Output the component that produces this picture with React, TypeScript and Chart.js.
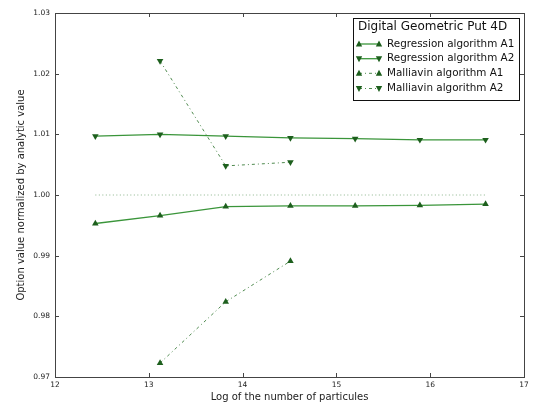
import React, { useEffect, useRef } from "react";
import { Chart, registerables } from "chart.js";

Chart.register(...registerables);

// ---- data ----
const logN = [12.43, 13.12, 13.82, 14.51, 15.2, 15.89, 16.59];
const regressionA1 = [0.9953, 0.9966, 0.9981, 0.9982, 0.9982, 0.9983, 0.9985];
const regressionA2 = [1.0097, 1.01, 1.0097, 1.0094, 1.0093, 1.0091, 1.0091];
const malliavinX = [13.12, 13.82, 14.51];
const malliavinA1 = [0.9723, 0.9824, 0.9891];
const malliavinA2 = [1.0221, 1.0048, 1.0054];
const referenceValues = [1, 1, 1, 1, 1, 1, 1];
const xTicks = [12, 13, 14, 15, 16, 17];
const yTicks = [0.97, 0.98, 0.99, 1.0, 1.01, 1.02, 1.03];
const legendTitle = "Digital Geometric Put 4D";
const seriesLabels = [
  "Regression algorithm A1",
  "Regression algorithm A2",
  "Malliavin algorithm A1",
  "Malliavin algorithm A2",
];

const FONT = "'DejaVu Sans', sans-serif";
const LINE = "#3a953a";
const DASHLINE = "#4f8a4f";
const MARK = "#1d5f1d";

const toPts = (xs: number[], ys: number[]) => xs.map((x, i) => ({ x, y: ys[i] }));

const framePlugin = {
  id: "frame",
  afterDraw(chart: any) {
    const { ctx, chartArea: a, scales } = chart;
    ctx.save();
    ctx.strokeStyle = "#444";
    ctx.lineWidth = 1;
    ctx.strokeRect(Math.round(a.left) + 0.5, Math.round(a.top) + 0.5, Math.round(a.right - a.left), Math.round(a.bottom - a.top));
    const tl = 4;
    ctx.beginPath();
    xTicks.forEach((v) => {
      const px = Math.round(scales.x.getPixelForValue(v)) + 0.5;
      ctx.moveTo(px, a.bottom);
      ctx.lineTo(px, a.bottom - tl);
      ctx.moveTo(px, a.top);
      ctx.lineTo(px, a.top + tl);
    });
    yTicks.forEach((v) => {
      const py = Math.round(scales.y.getPixelForValue(v)) + 0.5;
      ctx.moveTo(a.left, py);
      ctx.lineTo(a.left + tl, py);
      ctx.moveTo(a.right, py);
      ctx.lineTo(a.right - tl, py);
    });
    ctx.stroke();

    // legend box
    const bx = 353.5, by = 18.5, bw = 166, bh = 82;
    ctx.fillStyle = "#fff";
    ctx.fillRect(bx, by, bw, bh);
    ctx.strokeStyle = "#111";
    ctx.strokeRect(bx, by, bw, bh);
    ctx.fillStyle = "#111";
    ctx.textBaseline = "middle";
    ctx.textAlign = "left";
    ctx.font = `12px ${FONT}`;
    ctx.fillText(legendTitle, 358, 27);
    ctx.font = `10.4px ${FONT}`;
    const rows = [44, 58.7, 73.3, 88.5];
    chart.data.datasets.slice(0, 4).forEach((ds: any, i: number) => {
      const y = rows[i];
      ctx.save();
      ctx.strokeStyle = ds.borderColor;
      ctx.lineWidth = ds.borderWidth;
      ctx.setLineDash(ds.borderDash || []);
      ctx.beginPath();
      ctx.moveTo(359, y);
      ctx.lineTo(379, y);
      ctx.stroke();
      ctx.restore();
      [359, 379].forEach((mx) => {
        ctx.save();
        ctx.fillStyle = MARK;
        ctx.translate(mx, y);
        if (ds.pointRotation === 180) ctx.rotate(Math.PI);
        ctx.beginPath();
        ctx.moveTo(0, -3.5);
        ctx.lineTo(3.2, 2.5);
        ctx.lineTo(-3.2, 2.5);
        ctx.closePath();
        ctx.fill();
        ctx.restore();
      });
      ctx.fillStyle = "#111";
      ctx.fillText(ds.label, 387, y);
    });
    ctx.restore();
  },
};

export default function App() {
  const ref = useRef<HTMLCanvasElement | null>(null);
  useEffect(() => {
    if (!ref.current) return;
    const common = { pointRadius: 3.8, pointHoverRadius: 3.8, pointBackgroundColor: MARK, pointBorderColor: MARK, pointBorderWidth: 0, pointStyle: "triangle" };
    const chart = new Chart(ref.current, {
      type: "line",
      data: {
        datasets: [
          { label: seriesLabels[0], data: toPts(logN, regressionA1), borderColor: LINE, borderWidth: 1.3, pointRotation: 0, ...common },
          { label: seriesLabels[1], data: toPts(logN, regressionA2), borderColor: LINE, borderWidth: 1.3, pointRotation: 180, ...common },
          { label: seriesLabels[2], data: toPts(malliavinX, malliavinA1), borderColor: DASHLINE, borderWidth: 1, borderDash: [3, 3, 1, 3], pointRotation: 0, ...common },
          { label: seriesLabels[3], data: toPts(malliavinX, malliavinA2), borderColor: DASHLINE, borderWidth: 1, borderDash: [3, 3, 1, 3], pointRotation: 180, ...common },
          { label: "reference", data: toPts(logN, referenceValues), borderColor: "#8cb48c", borderWidth: 1, borderDash: [1, 2.5], pointRadius: 0 },
        ] as any,
      },
      options: {
        animation: false,
        responsive: false,
        layout: { padding: { top: 13, right: 14, left: 0, bottom: 0 } },
        plugins: { legend: { display: false }, tooltip: { enabled: false } },
        scales: {
          x: {
            type: "linear",
            min: 12,
            max: 17,
            afterBuildTicks: (s: any) => { s.ticks = xTicks.map((v) => ({ value: v })); },
            afterFit: (s: any) => { s.height = 32; },
            grid: { display: false, drawTicks: false },
            border: { display: false },
            ticks: { padding: 4, color: "#222", font: { family: FONT, size: 7.5 }, callback: (v: any) => String(v) },
            title: { display: true, text: "Log of the number of particules", color: "#222", font: { family: FONT, size: 10 }, padding: { top: 0, bottom: 6 } },
          },
          y: {
            type: "linear",
            min: 0.97,
            max: 1.03,
            afterBuildTicks: (s: any) => { s.ticks = yTicks.map((v) => ({ value: v })); },
            afterFit: (s: any) => { s.width = 55; },
            grid: { display: false, drawTicks: false },
            border: { display: false },
            ticks: { padding: 5, color: "#222", font: { family: FONT, size: 7.5 }, callback: (v: any) => Number(v).toFixed(2) },
            title: { display: true, text: "Option value normalized by analytic value", color: "#222", font: { family: FONT, size: 10 }, padding: { top: 15, bottom: 0 } },
          },
        },
      } as any,
      plugins: [framePlugin],
    });
    return () => chart.destroy();
  }, []);
  return (
    <div style={{ position: "absolute", left: 0, top: 0, width: 538, height: 409, background: "#fff" }}>
      <canvas ref={ref} width={538} height={409} style={{ display: "block" }} />
    </div>
  );
}
